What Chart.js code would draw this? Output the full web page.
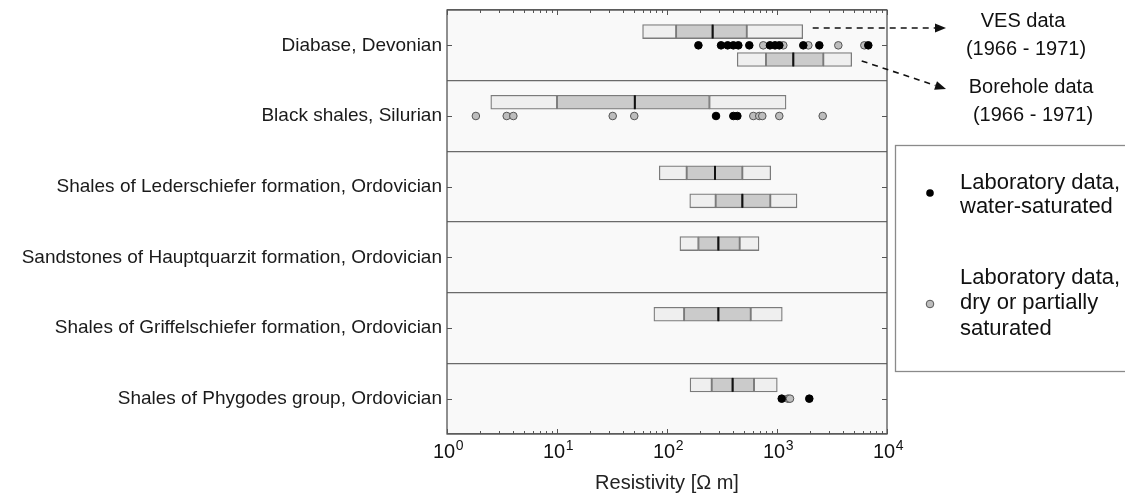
<!DOCTYPE html>
<html lang="en">
<head>
  <meta charset="UTF-8">
  <title>Resistivity of rocks</title>
  <script src="https://cdn.jsdelivr.net/npm/chart.js"></script>
  <style>
    html, body { margin: 0; padding: 0; background: #fff; }
  </style>
</head>
<body>
  <canvas id="resChart" width="1125" height="498"></canvas>

  <script>
    // rock units, top to bottom
    const rocks = [
      'Diabase, Devonian',
      'Black shales, Silurian',
      'Shales of Lederschiefer formation, Ordovician',
      'Sandstones of Hauptquarzit formation, Ordovician',
      'Shales of Griffelschiefer formation, Ordovician',
      'Shales of Phygodes group, Ordovician'
    ];

    // boxes: [min, lower quartile, median, upper quartile, max] in Ohm m
    const vesBoxes = [
      [60, 121, 260, 531, 1713],
      [2.5, 10, 51, 243, 1208],
      [85, 151, 273, 484, 877],
      [131, 193, 293, 458, 686],
      [76, 143, 293, 577, 1117],
      [162, 255, 395, 618, 1006]
    ];
    const boreholeBoxes = [
      [435, 794, 1406, 2636, 4776],
      null,
      [161, 277, 484, 869, 1520],
      null,
      null,
      null
    ];

    // laboratory samples
    const wetSamples = [
      [193, 310, 356, 401, 445, 560, 863, 959, 1050, 1734, 2425, 6761],
      [279, 401, 436],
      [], [], [],
      [1104, 1966]
    ];
    const drySamples = [
      [750, 1141, 1927, 3609, 6223],
      [1.83, 3.49, 4.01, 32.1, 50.4, 609, 690, 735, 1049, 2603],
      [], [], [],
      [1259, 1313]
    ];

    const decades = [0, 1, 2, 3, 4];

    const FONT = "'Liberation Sans', Arial, Helvetica, sans-serif";
    const LIGHT = '#efefef', DARK = '#cbcbcb', EDGE = '#7b7b7b';

    // box rows sit a bit above / below the row centre
    const UP = -0.195, DOWN = 0.2;
    const boxes = [];
    vesBoxes.forEach((b, i) => { if (b) boxes.push({ y: i + 0.5 + UP, s: b }); });
    boreholeBoxes.forEach((b, i) => { if (b) boxes.push({ y: i + 0.5 + DOWN, s: b }); });

    const segColors = [LIGHT, DARK, DARK, LIGHT];
    const datasets = segColors.map((c, k) => ({
      type: 'bar',
      data: boxes.map(b => ({ x: [b.s[k], b.s[k + 1]], y: b.y })),
      backgroundColor: c,
      borderColor: EDGE,
      borderWidth: 1.3,
      borderSkipped: false,
      barThickness: 14,
      grouped: false,
      order: 3
    }));

    datasets.push({
      type: 'scatter',
      data: boxes.map(b => ({ x: b.s[2], y: b.y })),
      pointStyle: 'line',
      rotation: 90,
      pointRadius: 7,
      borderColor: '#111',
      borderWidth: 2,
      order: 2
    });

    const pts = arr => arr.flatMap((vals, i) => vals.map(v => ({ x: v, y: i + 0.5 })));
    datasets.push({
      type: 'scatter',
      data: pts(drySamples),
      pointRadius: 3.8,
      backgroundColor: '#bdbdbd',
      borderColor: '#555',
      borderWidth: 1,
      order: 1
    });
    datasets.push({
      type: 'scatter',
      data: pts(wetSamples),
      pointRadius: 3.8,
      backgroundColor: '#000',
      borderColor: '#000',
      borderWidth: 1,
      order: 0
    });

    function arrow(ctx, x1, y1, x2, y2) {
      const a = Math.atan2(y2 - y1, x2 - x1);
      const L = 11, W = 4.5;
      const bx = x2 - L * Math.cos(a), by = y2 - L * Math.sin(a);
      ctx.save();
      ctx.strokeStyle = '#111';
      ctx.lineWidth = 1.6;
      ctx.setLineDash([6, 5]);
      ctx.beginPath();
      ctx.moveTo(x1, y1);
      ctx.lineTo(bx, by);
      ctx.stroke();
      ctx.setLineDash([]);
      ctx.fillStyle = '#111';
      ctx.beginPath();
      ctx.moveTo(x2, y2);
      ctx.lineTo(bx + W * Math.sin(a), by - W * Math.cos(a));
      ctx.lineTo(bx - W * Math.sin(a), by + W * Math.cos(a));
      ctx.closePath();
      ctx.fill();
      ctx.restore();
    }

    const decor = {
      id: 'decor',
      beforeDraw(chart) {
        const { ctx, chartArea: a } = chart;
        ctx.save();
        ctx.fillStyle = '#f9f9f9';
        ctx.fillRect(a.left, a.top, a.right - a.left, a.bottom - a.top);
        ctx.restore();
      },
      afterDraw(chart) {
        const { ctx, chartArea: a } = chart;
        const xs = chart.scales.x, ys = chart.scales.y;
        ctx.save();

        // frame
        ctx.strokeStyle = '#555';
        ctx.lineWidth = 1.3;
        ctx.strokeRect(a.left, a.top, a.right - a.left, a.bottom - a.top);

        // inward ticks on all four sides
        ctx.lineWidth = 1;
        ctx.strokeStyle = '#555';
        ctx.beginPath();
        xs.ticks.forEach(t => {
          const px = Math.round(xs.getPixelForValue(t.value)) + 0.5;
          const len = t.major ? 5 : 3;
          ctx.moveTo(px, a.bottom); ctx.lineTo(px, a.bottom - len);
          ctx.moveTo(px, a.top); ctx.lineTo(px, a.top + len);
        });
        rocks.forEach((r, i) => {
          const py = Math.round(ys.getPixelForValue(i + 0.5)) + 0.5;
          ctx.moveTo(a.left, py); ctx.lineTo(a.left + 5, py);
          ctx.moveTo(a.right, py); ctx.lineTo(a.right - 5, py);
        });
        ctx.stroke();

        // decade labels 10^n
        ctx.fillStyle = '#111';
        ctx.textBaseline = 'alphabetic';
        ctx.textAlign = 'left';
        decades.forEach(n => {
          const px = xs.getPixelForValue(Math.pow(10, n));
          ctx.font = '20px ' + FONT;
          const wb = ctx.measureText('10').width;
          ctx.font = '14px ' + FONT;
          const we = ctx.measureText(String(n)).width;
          const x0 = px - (wb + we) / 2 + 1;
          ctx.font = '20px ' + FONT;
          ctx.fillText('10', x0, a.bottom + 24);
          ctx.font = '14px ' + FONT;
          ctx.fillText(String(n), x0 + wb + 0.5, a.bottom + 16);
        });

        // VES / borehole annotations
        const vTop = vesBoxes[0], bTop = boreholeBoxes[0];
        arrow(ctx, xs.getPixelForValue(vTop[4]) + 10, ys.getPixelForValue(0.5 + UP) - 3.5, 946, 28);
        arrow(ctx, xs.getPixelForValue(bTop[4]) + 10, ys.getPixelForValue(0.5 + DOWN) + 1.5, 946, 89);
        ctx.font = '20px ' + FONT;
        ctx.fillStyle = '#111';
        ctx.textAlign = 'center';
        ctx.textBaseline = 'middle';
        ctx.fillText('VES data', 1023, 21);
        ctx.fillText('(1966 - 1971)', 1026, 49);
        ctx.fillText('Borehole data', 1031, 87);
        ctx.fillText('(1966 - 1971)', 1033, 115);

        // legend panel
        ctx.strokeStyle = '#8a8a8a';
        ctx.lineWidth = 1.3;
        ctx.strokeRect(895.5, 145.5, 260, 226);
        ctx.beginPath();
        ctx.arc(930, 193, 3.8, 0, Math.PI * 2);
        ctx.fillStyle = '#000';
        ctx.fill();
        ctx.beginPath();
        ctx.arc(930, 304, 3.8, 0, Math.PI * 2);
        ctx.fillStyle = '#bdbdbd';
        ctx.fill();
        ctx.strokeStyle = '#555';
        ctx.lineWidth = 1;
        ctx.stroke();
        ctx.font = '22px ' + FONT;
        ctx.fillStyle = '#111';
        ctx.textAlign = 'left';
        ctx.fillText('Laboratory data,', 960, 183);
        ctx.fillText('water-saturated', 960, 207);
        ctx.fillText('Laboratory data,', 960, 278);
        ctx.fillText('dry or partially', 960, 303);
        ctx.fillText('saturated', 960, 329);

        ctx.restore();
      }
    };

    new Chart(document.getElementById('resChart').getContext('2d'), {
      type: 'bar',
      data: { datasets },
      plugins: [decor],
      options: {
        indexAxis: 'y',
        responsive: false,
        animation: false,
        devicePixelRatio: 1,
        layout: { padding: { left: 0, right: 238, top: 10, bottom: 0 } },
        plugins: {
          legend: { display: false },
          tooltip: { enabled: false }
        },
        scales: {
          x: {
            type: 'logarithmic',
            axis: 'x',
            position: 'bottom',
            min: 1,
            max: 10000,
            offset: false,
            afterBuildTicks: s => {
              const t = [];
              decades.forEach(n => {
                for (let m = 1; m <= 9; m++) {
                  const v = m * Math.pow(10, n);
                  if (v <= 10000) t.push({ value: v, major: m === 1 });
                }
              });
              s.ticks = t;
            },
            afterFit: s => { s.height = 64; s.paddingLeft = 0; s.paddingRight = 0; },
            grid: { display: false },
            border: { display: false },
            ticks: { display: false },
            title: {
              display: true,
              text: 'Resistivity [Ω m]',
              color: '#222',
              font: { family: FONT, size: 20 },
              padding: { top: 0, bottom: 3 }
            }
          },
          y: {
            type: 'linear',
            axis: 'y',
            position: 'left',
            min: 0,
            max: 6,
            reverse: true,
            offset: false,
            afterBuildTicks: s => {
              const t = [];
              for (let v = 0; v <= 6; v += 0.5) t.push({ value: v });
              s.ticks = t;
            },
            afterFit: s => { s.width = 447; s.paddingTop = 0; s.paddingBottom = 0; },
            border: { display: false },
            grid: {
              offset: false,
              drawTicks: false,
              lineWidth: 1.3,
              color: c => (c.tick && c.tick.value % 1 === 0) ? '#6a6a6a' : 'rgba(0,0,0,0)'
            },
            ticks: {
              autoSkip: false,
              padding: 5,
              color: '#1a1a1a',
              font: { family: FONT, size: 19 },
              callback: v => (v % 1 ? rocks[Math.floor(v)] : '')
            }
          }
        }
      }
    });
  </script>
</body>
</html>
